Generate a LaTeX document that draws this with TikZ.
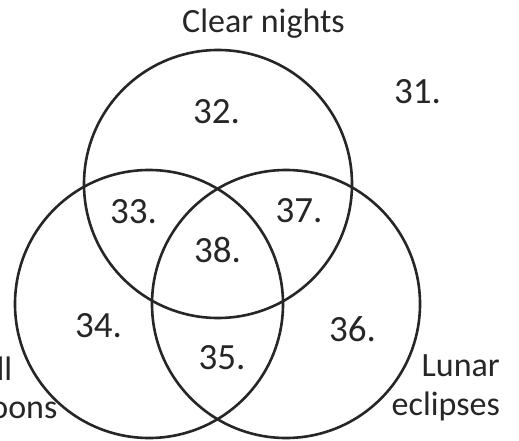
\documentclass[tikz,border=0pt]{standalone}
\usepackage{fontspec}
\setmainfont{Carlito}
\begin{document}
\begin{tikzpicture}[x=1pt,y=-1pt,
  ring/.style={draw=black!85, line width=2.6pt},
  num/.style={anchor=base, inner sep=0pt, font=\fontsize{37}{40}\selectfont, text=black!85},
  lab/.style={inner sep=0pt, font=\fontsize{34}{38}\selectfont, text=black!85}]
\useasboundingbox (0,0) rectangle (519,441);
\clip (0,0) rectangle (519,441);
\draw[ring] (218,184) circle (134);
\draw[ring] (149,304) circle (134);
\draw[ring] (286,304) circle (134);
\node[lab, anchor=base west] (lclear) at (182,33) {Clear nights};
\node[lab, anchor=base west] (lfull) at (-37,380) {Full};
\node[lab, anchor=base west] (lmoons) at (-37,418) {moons};
\node[lab, anchor=base east] (llunar) at (500,376) {Lunar};
\node[lab, anchor=base east] (lecl) at (500,415) {eclipses};
\node[num] (n31) at (417.5,103) {31.};
\node[num] (n32) at (216.5,124) {32.};
\node[num] (n33) at (133.5,223) {33.};
\node[num] (n37) at (299,222) {37.};
\node[num] (n38) at (217.5,262) {38.};
\node[num] (n34) at (98.5,337) {34.};
\node[num] (n35) at (222,369) {35.};
\node[num] (n36) at (352.5,341) {36.};
\end{tikzpicture}
\end{document}
